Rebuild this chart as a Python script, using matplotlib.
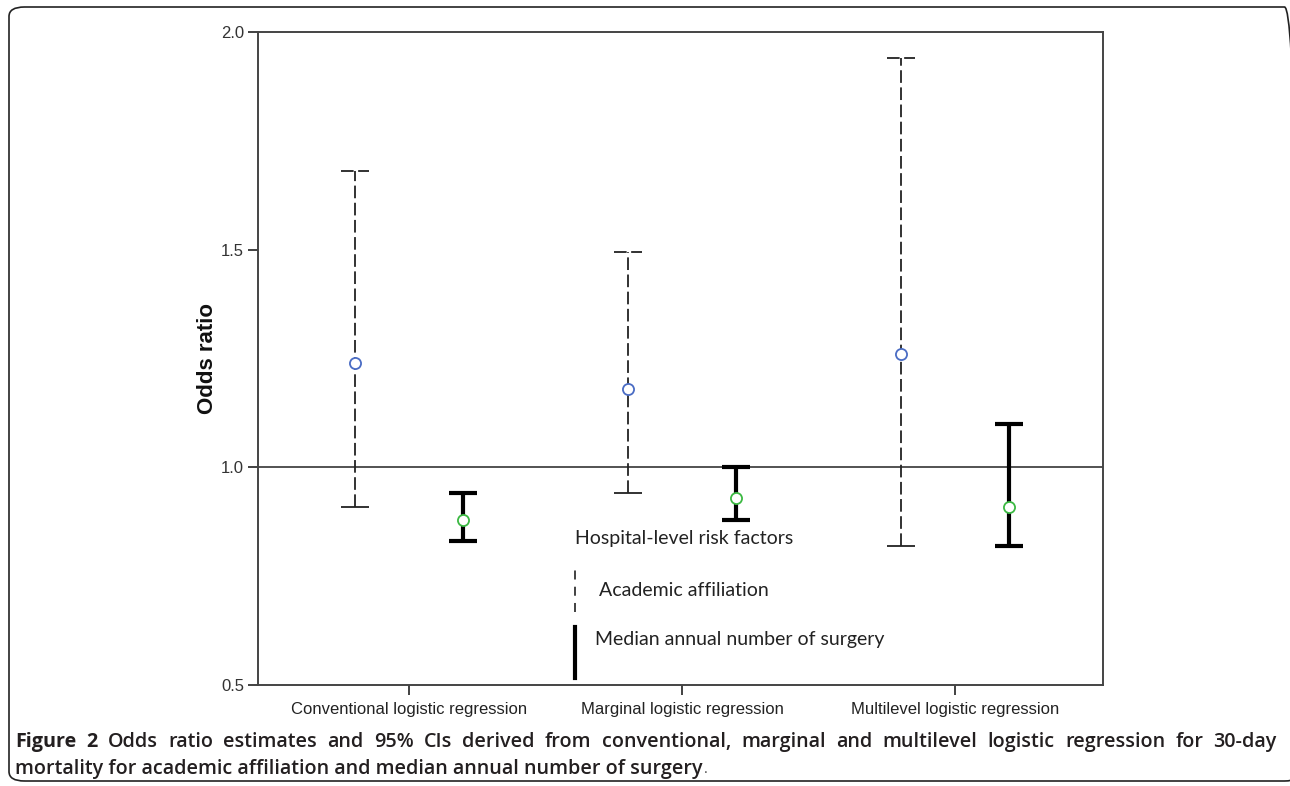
import matplotlib
matplotlib.use("Agg")
import matplotlib.pyplot as plt
from matplotlib.patches import FancyBboxPatch
import numpy as np

# values
methods = ["Conventional logistic regression", "Marginal logistic regression",
           "Multilevel logistic regression"]
acad_or = [1.24, 1.18, 1.26]
acad_lo = [0.91, 0.94, 0.82]
acad_hi = [1.68, 1.495, 1.94]
surg_or = [0.88, 0.93, 0.91]
surg_lo = [0.83, 0.88, 0.82]
surg_hi = [0.94, 1.00, 1.10]
yticks = [0.5, 1.0, 1.5, 2.0]

legend_title = "Hospital-level risk factors"
legend_acad = "Academic affiliation"
legend_surg = "Median annual number of surgery"
cap_bold = "Figure 2"
cap_line1 = ("Odds ratio estimates and 95% CIs derived from conventional, marginal "
             "and multilevel logistic regression for 30-day")
cap_line2 = "mortality for academic affiliation and median annual number of surgery"

W, H = 1290, 786
fig = plt.figure(figsize=(W / 100, H / 100), dpi=100)
fig.patch.set_facecolor("white")

# rounded frame around figure + caption
frame = FancyBboxPatch((9 / W, 1 - 781 / H), (1300 - 9) / W, (781 - 7) / H,
                       boxstyle="round,pad=0,rounding_size=0.012",
                       transform=fig.transFigure, fill=False,
                       edgecolor="#222222", linewidth=1.2)
fig.patches.append(frame)

ax = fig.add_axes([258 / W, 1 - 685 / H, (1103 - 258) / W, (685 - 32) / H])
x = np.arange(1, len(methods) + 1)
off = 0.198
ax.set_xlim(0.447, 3.542)
ax.set_ylim(0.5, 2.0)

ax.axhline(1.0, color="#444444", lw=1.3, zorder=1)

cap = 0.05
xa = x - off
xs = x + off
dash = (0, (7, 2.5))
# academic affiliation: dashed thin
ax.vlines(xa, acad_lo, acad_hi, colors="#222222", lw=1.3, linestyles=dash, zorder=2)
ax.hlines(acad_hi, xa - cap, xa + cap, colors="#222222", lw=1.3, linestyles=dash, zorder=2)
ax.hlines(acad_lo, xa - cap, xa + cap, colors="#222222", lw=1.3, zorder=2)
ax.plot(xa, acad_or, "o", ms=8, mfc="white", mec="#4a6cc4", mew=1.3, zorder=3)
# median annual number of surgery: solid thick
ax.vlines(xs, surg_lo, surg_hi, colors="black", lw=3, zorder=2)
ax.hlines(surg_hi, xs - cap, xs + cap, colors="black", lw=3, zorder=2)
ax.hlines(surg_lo, xs - cap, xs + cap, colors="black", lw=3, zorder=2)
ax.plot(xs, surg_or, "o", ms=8, mfc="white", mec="#3cb943", mew=1.3, zorder=3)

ax.set_xticks(x)
ax.set_xticklabels(methods, family="Liberation Sans", fontsize=12, color="#222222")
ax.set_yticks(yticks)
ax.set_yticklabels([f"{v:.1f}" for v in yticks], family="Liberation Sans",
                   fontsize=12, color="#333333")
ax.tick_params(axis="both", length=7, width=1.3, color="#333333", pad=3)
ax.tick_params(axis="x", pad=5)
for s in ax.spines.values():
    s.set_color("#444444")
    s.set_linewidth(1.4)

ax.set_ylabel("Odds ratio", family="Liberation Sans", fontsize=16, fontweight="bold",
              color="#111111", labelpad=2)

# legend drawn inside the axes
lg_font = dict(family="Lato", fontsize=14, color="#222222", va="center",
               transform=ax.transAxes)
ax.text(0.375, 0.225, legend_title, **lg_font)
ax.plot([0.375, 0.375], [0.112, 0.179], transform=ax.transAxes, color="#333333",
        lw=1.3, ls=(0, (5, 4)))
ax.text(0.404, 0.145, legend_acad, **lg_font)
ax.plot([0.375, 0.375], [0.011, 0.089], transform=ax.transAxes, color="black", lw=3)
ax.text(0.399, 0.069, legend_surg, **lg_font)

# caption, first line justified
cap_fam = "Open Sans"
cap_size = 14.2
cap_col = "#231f20"
x0, x1 = 15, 1277
y1 = 1 - 742 / H
y2 = 1 - 769 / H
tokens = [(w, "bold") for w in cap_bold.split()] + [(w, "semibold") for w in cap_line1.split()]
texts = []
for w, wt in tokens:
    t = fig.text(0, y1, w, family=cap_fam, fontsize=cap_size, fontweight=wt,
                 color=cap_col, va="center")
    texts.append(t)
r = fig.canvas.get_renderer()
widths = [t.get_window_extent(r).width for t in texts]
gap = (x1 - x0 - sum(widths)) / (len(texts) - 1)
pos = x0
for t, wd in zip(texts, widths):
    t.set_x(pos / W)
    pos += wd + gap

t2 = fig.text(x0 / W, y2, cap_line2, family=cap_fam, fontsize=cap_size,
              fontweight="semibold", color=cap_col, va="center")
w2 = t2.get_window_extent(r).width
fig.text((x0 + w2 + 1) / W, y2, ".", family="Liberation Sans", fontsize=10,
         color="#444444", va="center")

fig.savefig("out.png", dpi=100)
